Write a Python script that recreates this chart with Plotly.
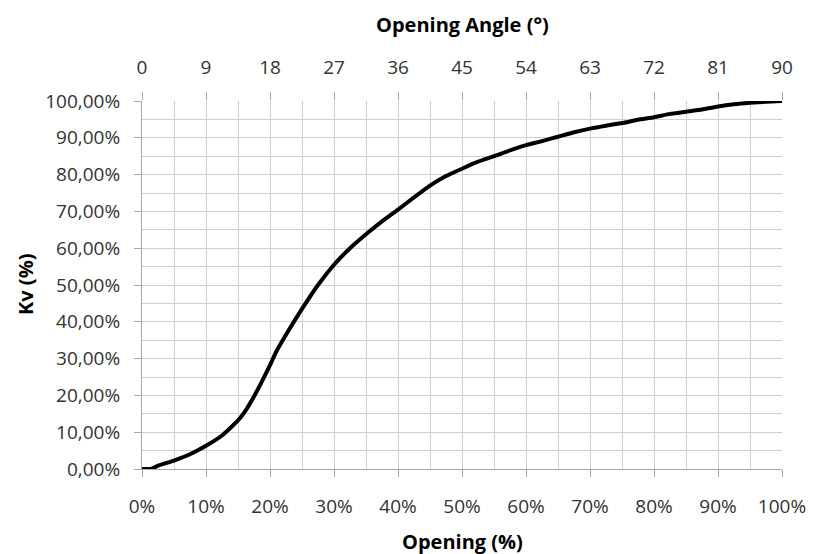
import plotly.graph_objects as go

# Data
opening_pct = [0, 1.5, 2.5, 5, 7.5, 10, 12.5, 15, 16, 17.5, 20, 21, 22.5, 25, 27.5,
               30, 32.5, 35, 37.5, 40, 42.5, 45, 47.5, 50, 52.5, 55, 57.5, 60,
               62.5, 65, 67.5, 70, 72.5, 75, 77.5, 80, 82.5, 85, 87.5, 90, 92.5,
               95, 97.5, 100]
kv_pct = [0, 0.1, 0.9, 2.3, 4.0, 6.3, 9.1, 13.2, 15.4, 19.7, 28.2, 32.0, 36.5, 43.5,
          50.0, 55.5, 60.0, 63.8, 67.3, 70.5, 73.8, 77.0, 79.6, 81.6, 83.5, 85.0,
          86.6, 88.0, 89.1, 90.3, 91.5, 92.5, 93.3, 94.0, 94.9, 95.6, 96.5, 97.1,
          97.7, 98.5, 99.1, 99.5, 99.8, 100]
max_angle = 90
angle_deg = [o * max_angle / 100 for o in opening_pct]

FONT = "Open Sans"
GRID = "#d0d0d0"
AXIS = "#a6a6a6"
TXT = "#333333"
TICK_SIZE = 19
TITLE_SIZE = 20

fig = go.Figure()
fig.add_trace(go.Scatter(
    x=opening_pct, y=kv_pct, mode="lines",
    line=dict(color="black", width=4, shape="spline", smoothing=0.5),
    showlegend=False, name="Kv"))
# same curve on the angle axis (invisible) so the top axis is rendered
fig.add_trace(go.Scatter(
    x=angle_deg, y=kv_pct, mode="lines", xaxis="x2",
    line=dict(color="rgba(0,0,0,0)", width=0), hoverinfo="skip",
    showlegend=False))

fig.update_layout(
    width=820, height=554,
    margin=dict(l=142, r=38, t=101, b=85),
    paper_bgcolor="white", plot_bgcolor="white",
    separators=",.",
    font=dict(family=FONT, size=TICK_SIZE, color=TXT),
    xaxis=dict(
        range=[0, 100], dtick=10, ticksuffix="%", tickformat="d",
        showgrid=True, gridcolor=GRID, gridwidth=1,
        minor=dict(dtick=5, showgrid=True, gridcolor=GRID, gridwidth=1),
        showline=True, linecolor=AXIS, linewidth=1,
        ticks="outside", ticklen=7, tickcolor=AXIS,
        zeroline=False, ticklabelstandoff=13,
        tickfont=dict(family=FONT, size=TICK_SIZE, color=TXT),
    ),
    xaxis2=dict(
        overlaying="x", side="top", range=[0, max_angle], dtick=9,
        showgrid=False, showline=False, zeroline=False,
        ticks="outside", ticklen=8, tickcolor=AXIS, ticklabelstandoff=10,
        tickfont=dict(family=FONT, size=TICK_SIZE, color=TXT),
    ),
    yaxis=dict(
        range=[0, 100], dtick=10, tickformat=".2f", ticksuffix="%",
        showgrid=True, gridcolor=GRID, gridwidth=1,
        minor=dict(dtick=5, showgrid=True, gridcolor=GRID, gridwidth=1),
        showline=True, linecolor=AXIS, linewidth=1,
        ticks="outside", ticklen=7, tickcolor=AXIS,
        zeroline=False, ticklabelstandoff=10,
        tickfont=dict(family=FONT, size=TICK_SIZE, color=TXT),
    ),
    annotations=[
        dict(text="<b>Opening Angle (°)</b>", xref="paper", yref="paper",
             x=0.5, y=1, yshift=77, xanchor="center", yanchor="middle",
             showarrow=False, font=dict(family=FONT, size=TITLE_SIZE, color="black")),
        dict(text="<b>Opening (%)</b>", xref="paper", yref="paper",
             x=0.5, y=0, yshift=-72, xanchor="center", yanchor="middle",
             showarrow=False, font=dict(family=FONT, size=TITLE_SIZE, color="black")),
        dict(text="<b>Kv (%)</b>", xref="paper", yref="paper",
             x=0, y=0.5, xshift=-117, xanchor="center", yanchor="middle",
             textangle=-90, showarrow=False,
             font=dict(family=FONT, size=TITLE_SIZE, color="black")),
    ],
)

fig.write_html("out.html", config={"displayModeBar": False},
               post_script="document.body.style.margin='0';")
